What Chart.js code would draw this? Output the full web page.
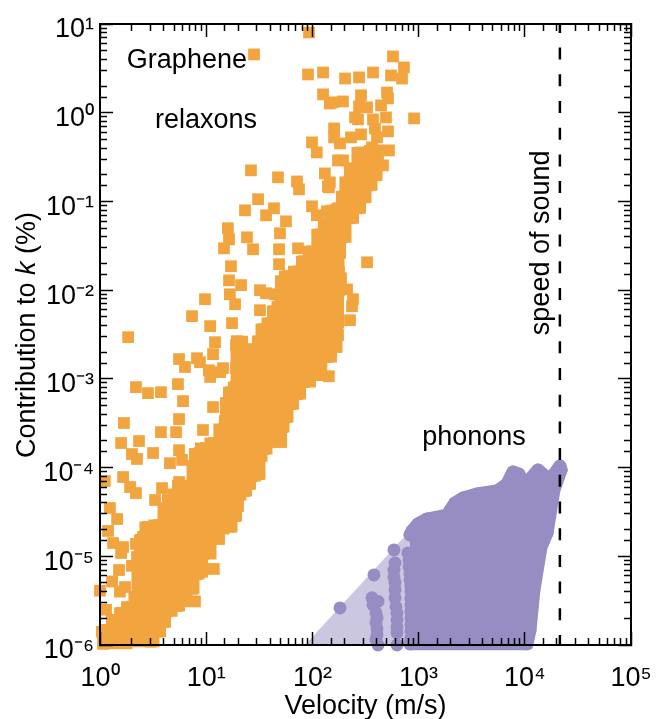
<!DOCTYPE html>
<html>
<head>
<meta charset="utf-8">
<title>Graphene relaxons and phonons</title>
<script src="https://cdn.jsdelivr.net/npm/chart.js@4"></script>
<style>
  html, body { margin: 0; padding: 0; background: #fff; }
  canvas { display: block; }
</style>
</head>
<body>
<canvas id="grafica" width="664" height="719"></canvas>
<script>
// Ticks
const xTickValues = [1, 10, 100, 1000, 10000, 100000];
const xTickLabels = ['10⁰', '10¹', '10²', '10³', '10⁴', '10⁵'];
const yTickValues = [1e-6, 1e-5, 1e-4, 1e-3, 1e-2, 1e-1, 1, 10];
const yTickLabels = ['10⁻⁶', '10⁻⁵', '10⁻⁴', '10⁻³', '10⁻²', '10⁻¹', '10⁰', '10¹'];

// Relaxons: scattered modes
const relaxonVelocity = [
  92.9, 28.2, 90.9, 126, 126, 146, 99.1, 110, 26.4, 47.4, 71.6, 74.8, 131, 140, 30.8, 23.2, 36.6, 43.5, 56.4, 99.1,
  16.0, 16.4, 24.2, 49.5, 14.7, 27.6, 48.5, 73.2, 17.1, 48.5, 16.4, 21.3, 16.7, 18.7, 32.1, 36.6, 44.5, 32.1, 9.74, 7.35,
  10.9, 17.5, 12.1, 1.84, 5.55, 8.19, 11.6, 2.18, 2.83, 3.75, 5.42, 6.05, 1.68, 5.55, 3.75, 5.20, 2.33, 1.58, 2.00, 2.23,
  3.16, 5.55, 1.65, 1.11, 1.92, 2.18, 1.24, 1.45, 1.19, 1.33, 1.65, 1.58, 2.83, 2.54, 2.18, 2.23, 2.00, 1.51, 1.30, 1.72,
  1.54, 1.00, 1.14, 1.04, 1.07, 11.8, 7.84, 4.56, 5.92, 3.84, 3.30, 5.55, 8.74, 9.33, 11.6, 10.9, 13.5, 6.31, 8.74, 10.6,
  14.4, 327, 186, 212, 241, 236, 226, 143, 574, 728, 550, 698, 372, 275, 203, 906, 504, 515, 156, 194,
  287, 275, 327, 443, 252, 269, 372, 493, 388, 515, 406, 160, 160, 182, 231, 287, 364, 526, 174, 194,
  462, 146, 143, 110, 137
];
const relaxonContribution = [
  8.02, 4.54, 2.70, 2.84, 1.61, 1.27, 0.463, 0.357, 0.224, 0.187, 0.168, 0.137, 0.207, 0.148, 0.106, 0.0794, 0.0698, 0.0837, 0.0597, 0.0881,
  0.0499, 0.0374, 0.0394, 0.0438, 0.0296, 0.0289, 0.0289, 0.0296, 0.0186, 0.0196, 0.0129, 0.0114, 0.00899, 0.00694, 0.00998, 0.00923, 0.00899, 0.00594, 0.00791, 0.00509,
  0.00393, 0.00425, 0.00259, 0.00295, 0.00167, 0.00171, 0.00190, 8.07e-4, 6.90e-4, 7.08e-4, 8.73e-4, 5.61e-4, 3.18e-4, 3.52e-4, 2.51e-4, 2.51e-4, 1.99e-4, 1.89e-4, 1.42e-4, 1.25e-4,
  1.46e-4, 1.57e-4, 7.82e-5, 7.05e-5, 6.03e-5, 5.16e-5, 3.50e-5, 2.63e-5, 1.93e-5, 1.41e-5, 1.27e-5, 1.09e-5, 2.14e-5, 1.65e-5, 1.38e-5, 9.8e-6, 7.8e-6, 7.0e-6, 5.2e-6, 4.5e-6,
  4.0e-6, 4.1e-6, 2.5e-6, 1.41e-6, 1.06e-6, 7.2e-6, 3.1e-6, 1.12e-4, 1.22e-4, 5.87e-5, 4.31e-5, 6.87e-5, 1.46e-4, 2.65e-4, 4.81e-4, 1.05e-3, 1.19e-3, 1.36e-3, 1.54e-3, 1.25e-3,
  1.32e-3, 0.0206, 0.0136, 0.0102, 0.00791, 0.00659, 0.00458, 0.00107, 4.31, 3.24, 2.63, 2.43, 2.84, 2.50, 2.43, 0.863, 1.69, 1.45, 1.31, 1.34,
  1.57, 1.18, 1.15, 1.21, 0.885, 0.841, 0.841, 0.885, 0.665, 0.616, 0.527, 0.665, 0.527, 0.451, 0.527, 0.570, 0.406, 0.376, 0.290, 0.290,
  0.255, 0.164, 0.144, 0.0698, 0.0774
];

// Relaxons: outer modes of the dense cloud, upper and lower side
const relaxonUpperVelocity = [
  1.11, 1.48, 1.58, 2.00, 2.18, 2.28, 2.28, 2.43, 2.89, 3.59, 4.28, 4.37, 5.42, 5.42, 7.04, 7.67, 7.84, 9.96, 11.8, 14.7, 15.0, 15.4, 17.1, 19.1,
  19.1, 19.1, 19.5, 24.8, 29.4, 31.4, 34.3, 40.7, 43.5, 49.5, 50.6, 58.9, 74.8, 83.4, 101, 120, 134, 163, 178, 198, 207, 241, 287, 415
];
const relaxonUpperContribution = [
  1.48e-6, 1.92e-6, 2.3e-6, 2.7e-6, 3.48e-6, 5.86e-6, 9.8e-6, 1.53e-5, 2.14e-5, 2.25e-5, 3.5e-5, 4.31e-5, 5.04e-5, 6.19e-5, 6.19e-5, 1.04e-4, 1.42e-4, 1.66e-4, 1.89e-4, 2.72e-4, 3.34e-4, 5.33e-4, 7.08e-4, 8.07e-4,
  1.32e-3, 2.40e-3, 2.66e-3, 2.16e-3, 2.16e-3, 2.66e-3, 3.63e-3, 4.25e-3, 5.79e-3, 6.59e-3, 0.0126, 0.0144, 0.0163, 0.0212, 0.0274, 0.0426, 0.0568, 0.0794, 0.0837, 0.114, 0.164, 0.236, 0.357, 0.376
];
const relaxonLowerVelocity = [
  1.07, 3.02, 3.44, 4.0, 4.28, 5.31, 5.92, 7.35, 8.02, 9.12, 9.33, 13.2, 13.2, 16.4, 18.7, 19.9, 19.9, 22.7, 25.3, 27.0, 31.4, 32.8, 34.3, 40.7, 50.6,
  51.8, 56.4, 61.5, 71.6, 83.4, 110, 137, 167, 174, 174, 178, 178, 178, 190, 226, 263, 306, 334, 397, 415
];
const relaxonLowerContribution = [
  1.03e-6, 1.09e-6, 1.41e-6, 1.82e-6, 2.4e-6, 2.76e-6, 3.1e-6, 4.3e-6, 6.3e-6, 6.7e-6, 1.06e-5, 1.57e-5, 2.03e-5, 2.14e-5, 2.85e-5, 3.69e-5, 4.9e-5, 5.45e-5, 6.53e-5, 8.03e-5, 8.45e-5, 1.35e-4, 1.62e-4, 1.94e-4, 1.94e-4,
  2.86e-4, 3.71e-4, 5.19e-4, 6.73e-4, 9.2e-4, 1.10e-3, 1.76e-3, 2.28e-3, 3.11e-3, 4.36e-3, 0.00998, 0.0159, 0.0261, 0.0394, 0.0646, 0.0837, 0.111, 0.152, 0.197, 0.306
];

// Phonons: isolated modes and low velocity columns
const phononVelocity = [
  182, 380, 364, 415, 372, 397, 397, 406, 415, 406, 406, 397,
  586, 600, 586, 600, 612, 626, 626, 626, 586, 600, 600, 626, 626,
  794, 812, 830, 847, 847, 847, 847, 847, 812, 830, 847, 847, 847, 847, 847
];
const phononContribution = [
  2.62e-6, 6.17e-6, 3.4e-6, 3.1e-6, 2.83e-6, 2.3e-6, 1.78e-6, 1.3e-6, 1.0e-6, 2.02e-6, 1.52e-6, 1.15e-6,
  1.18e-5, 8.4e-6, 5.86e-6, 4.2e-6, 2.7e-6, 1.92e-6, 1.37e-6, 1.0e-6, 7.0e-6, 5.07e-6, 3.4e-6, 2.3e-6, 1.6e-6,
  1.09e-5, 7.6e-6, 5.42e-6, 4.0e-6, 2.83e-6, 2.02e-6, 1.45e-6, 1.03e-6, 9.1e-6, 6.3e-6, 4.6e-6, 3.35e-6, 2.4e-6, 1.7e-6, 1.2e-6
];

// Phonons: outer modes of the dense cloud
const phononUpperVelocity = [830, 867, 986, 1200, 1850, 2200, 2620, 3550, 5470, 6790, 7740, 8810, 9820, 13300, 15500, 16200, 21400, 21900];
const phononUpperContribution = [1.74e-5, 1.93e-5, 2.31e-5, 2.63e-5, 2.92e-5, 3.99e-5, 4.54e-5, 5.04e-5, 5.45e-5, 6.53e-5, 8.91e-5, 8.45e-5, 6.19e-5, 9.38e-5, 8.03e-5, 6.53e-5, 1.04e-4, 9.38e-5];
const phononLowerVelocity = [830, 10500, 11200, 12200, 14200, 16200, 18800, 21900];
const phononLowerContribution = [1.03e-6, 1.03e-6, 1.48e-6, 4.2e-6, 1.27e-5, 1.83e-5, 5.58e-5, 9.38e-5];

// Pale wedge behind the phonons
const wedgeVelocity = [85.2, 713, 1030];
const wedgeContribution = [1e-6, 1.6e-5, 1.6e-5];

// Speed of sound
const soundVelocity = [21400, 21400];
const soundContribution = [1e-6, 10];

// Text inside the plot
const noteLabels = ['Graphene', 'relaxons', 'phonons', 'speed of sound'];
const noteVelocity = [1.79, 3.30, 1080, 16900];
const noteContribution = [3.16, 0.665, 1.79e-4, 0.00311];

const NARANJA = '#f2a53f';
const MORADO = '#988dc3';
const LILA = '#cbc7e1';
const FUENTE = '"Liberation Sans", Arial, sans-serif';

Chart.defaults.font.family = FUENTE;
Chart.defaults.color = '#000';

function juntar(xs, ys) {
    return xs.map((x, i) => ({ x: x, y: ys[i] }));
}

function esDecada(v) {
    const l = Math.log10(v);
    return Math.abs(l - Math.round(l)) < 1e-6;
}

// Chart.js only has one tick length per scale, so each side gets a major and a minor scale
function crearEje(axis, position, major, rango, valores, etiquetas, grueso) {
    return {
        type: 'logarithmic',
        axis: axis,
        position: position,
        min: rango[0],
        max: rango[1],
        weight: major ? 2 : 1,
        afterBuildTicks(scale) {
            if (major) {
                scale.ticks = valores.map(v => ({ value: v }));
            } else {
                scale.ticks = scale.ticks.filter(t => !esDecada(t.value));
            }
        },
        afterFit(scale) {
            if (axis === 'x') {
                scale.height = grueso;
            } else {
                scale.width = grueso;
            }
            // labels may stick out, the plot box stays put
            scale.paddingLeft = scale.paddingRight = scale.paddingTop = scale.paddingBottom = 0;
        },
        grid: {
            drawOnChartArea: false,
            drawTicks: true,
            tickLength: major ? -13 : -7,
            tickColor: '#000',
            tickWidth: 1.5,
            z: 1
        },
        border: { display: major, color: '#000', width: 2, z: 1 },
        ticks: etiquetas ? {
            display: true,
            autoSkip: false,
            maxRotation: 0,
            color: '#000',
            padding: axis === 'x' ? 30 : 19,
            labelOffset: axis === 'x' ? 0 : 6,
            font: { size: 27 },
            callback: (v, i) => etiquetas[i]
        } : { display: false, autoSkip: false }
    };
}

const ejeX = crearEje('x', 'bottom', true, [1, 1e5], xTickValues, xTickLabels, 74);
ejeX.title = { display: true, text: 'Velocity (m/s)', color: '#000', font: { size: 27 }, padding: { top: 0, bottom: -4 } };

// Text the axis titles and tick labels cannot do: italics and notes inside the plot
const textos = {
    id: 'textos',
    afterDraw(chart) {
        const ctx = chart.ctx;
        const sx = chart.scales.x;
        const sy = chart.scales.y;
        ctx.save();
        ctx.fillStyle = '#000';
        ctx.textBaseline = 'alphabetic';
        ctx.textAlign = 'left';
        ctx.font = '27px ' + FUENTE;
        noteLabels.forEach((texto, i) => {
            ctx.save();
            ctx.translate(sx.getPixelForValue(noteVelocity[i]), sy.getPixelForValue(noteContribution[i]));
            if (texto === 'speed of sound') ctx.rotate(-Math.PI / 2);
            ctx.fillText(texto, 0, 0);
            ctx.restore();
        });
        // Contribution to k (%), k in italics
        ctx.translate(35, 458);
        ctx.rotate(-Math.PI / 2);
        let pos = 0;
        [['Contribution to ', ''], ['k', 'italic '], [' (%)', '']].forEach(parte => {
            ctx.font = parte[1] + '27px ' + FUENTE;
            ctx.fillText(parte[0], pos, 0);
            pos += ctx.measureText(parte[0]).width;
        });
        ctx.restore();
    }
};

new Chart(document.getElementById('grafica').getContext('2d'), {
    type: 'scatter',
    plugins: [textos],
    data: {
        datasets: [
            {
                label: 'phonon wedge',
                data: juntar(wedgeVelocity, wedgeContribution),
                showLine: true,
                borderWidth: 0,
                borderColor: LILA,
                backgroundColor: LILA,
                pointRadius: 0,
                fill: { value: 1e-6 },
                order: 6
            },
            {
                label: 'phonons upper',
                data: juntar(phononUpperVelocity, phononUpperContribution),
                showLine: true,
                borderWidth: 13,
                borderColor: MORADO,
                backgroundColor: MORADO,
                borderJoinStyle: 'round',
                borderCapStyle: 'round',
                pointStyle: 'circle',
                pointRadius: 6.5,
                pointBorderWidth: 0,
                pointBackgroundColor: MORADO,
                fill: '+1',
                clip: false,
                order: 5
            },
            {
                label: 'phonons lower',
                data: juntar(phononLowerVelocity, phononLowerContribution),
                showLine: true,
                borderWidth: 13,
                borderColor: MORADO,
                borderJoinStyle: 'round',
                borderCapStyle: 'round',
                pointStyle: 'circle',
                pointRadius: 6.5,
                pointBorderWidth: 0,
                pointBackgroundColor: MORADO,
                clip: false,
                order: 5
            },
            {
                label: 'phonons',
                data: juntar(phononVelocity, phononContribution),
                pointStyle: 'circle',
                pointRadius: 6.5,
                pointBorderWidth: 0,
                pointBackgroundColor: MORADO,
                clip: false,
                order: 4
            },
            {
                label: 'relaxons upper',
                data: juntar(relaxonUpperVelocity, relaxonUpperContribution),
                showLine: true,
                stepped: 'middle',
                borderWidth: 11,
                borderColor: NARANJA,
                backgroundColor: NARANJA,
                pointStyle: 'rect',
                pointRadius: 8.3,
                pointBorderWidth: 0,
                pointBackgroundColor: NARANJA,
                fill: '+1',
                clip: false,
                order: 3
            },
            {
                label: 'relaxons lower',
                data: juntar(relaxonLowerVelocity, relaxonLowerContribution),
                showLine: true,
                stepped: 'middle',
                borderWidth: 11,
                borderColor: NARANJA,
                pointStyle: 'rect',
                pointRadius: 8.3,
                pointBorderWidth: 0,
                pointBackgroundColor: NARANJA,
                clip: false,
                order: 3
            },
            {
                label: 'relaxons',
                data: juntar(relaxonVelocity, relaxonContribution),
                pointStyle: 'rect',
                pointRadius: 8.3,
                pointBorderWidth: 0,
                pointBackgroundColor: NARANJA,
                clip: false,
                order: 2
            },
            {
                label: 'speed of sound',
                data: juntar(soundVelocity, soundContribution),
                showLine: true,
                borderColor: '#000',
                borderWidth: 2.5,
                borderDash: [12, 14.7],
                borderDashOffset: 2,
                pointRadius: 0,
                order: 1
            }
        ]
    },
    options: {
        responsive: false,
        animation: false,
        events: [],
        layout: { padding: { left: 0, top: 24, right: 33, bottom: 0 } },
        plugins: { legend: { display: false }, tooltip: { enabled: false } },
        scales: {
            x: ejeX,
            xMinor: crearEje('x', 'bottom', false, [1, 1e5], null, null, 0),
            xTop: crearEje('x', 'top', true, [1, 1e5], xTickValues, null, 0),
            xTopMinor: crearEje('x', 'top', false, [1, 1e5], null, null, 0),
            y: crearEje('y', 'left', true, [1e-6, 10], yTickValues, yTickLabels, 100),
            yMinor: crearEje('y', 'left', false, [1e-6, 10], null, null, 0),
            yRight: crearEje('y', 'right', true, [1e-6, 10], yTickValues, null, 0),
            yRightMinor: crearEje('y', 'right', false, [1e-6, 10], null, null, 0)
        }
    }
});
</script>
</body>
</html>
